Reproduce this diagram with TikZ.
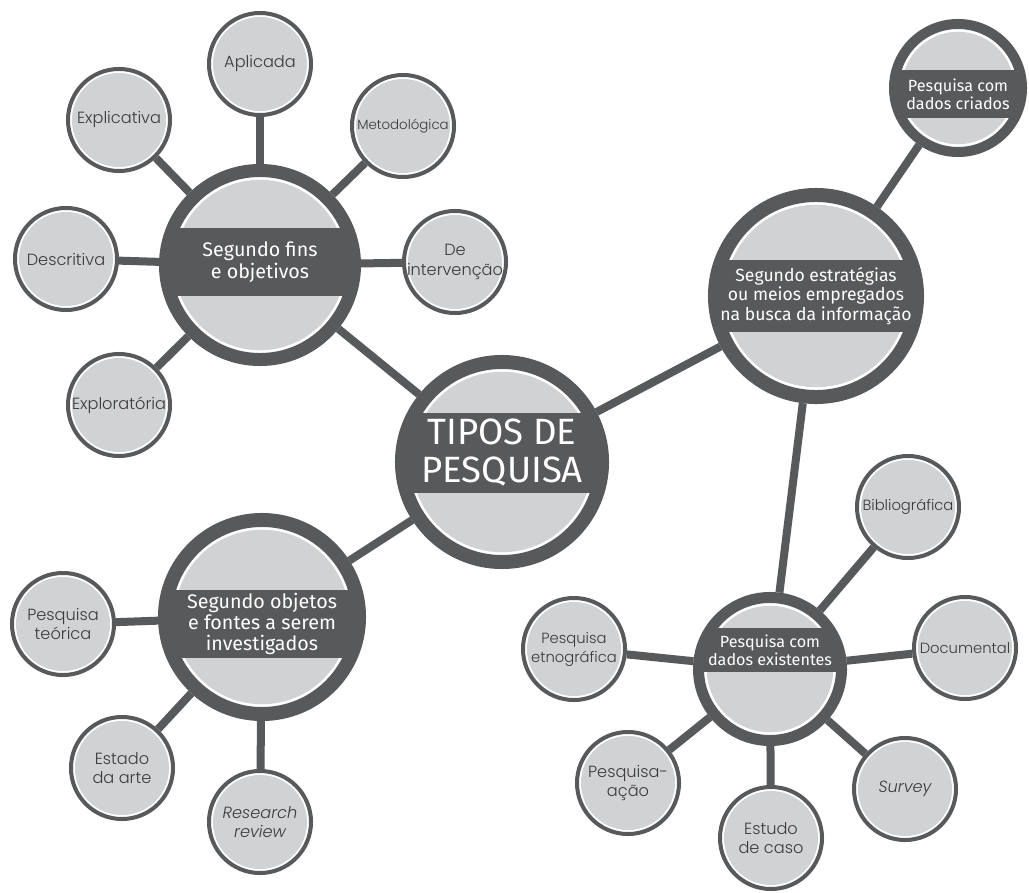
\documentclass[tikz,border=0pt]{standalone}
\usepackage{fontspec}
\setmainfont{Poppins}[UprightFont=* Light, ItalicFont=* Light Italic]
\newfontfamily\bandfont{Fira Sans}
\usetikzlibrary{backgrounds}
\definecolor{ringgray}{HTML}{58595B}
\definecolor{fillgray}{HTML}{D1D2D4}
\definecolor{leaftext}{HTML}{3A3A3C}
\begin{document}
\begin{tikzpicture}[x=0.025cm, y=-0.025cm,
    hub/.style n args={4}{circle, inner sep=0pt, minimum size=#1, line width=#2,
        draw=ringgray, fill=white,
        path picture={
            \fill[fillgray] (path picture bounding box.center) circle[radius=#1/2-#2/2-0.07cm];
            \fill[ringgray] ([yshift=#4-#3]path picture bounding box.west) rectangle ([yshift=#4+#3]path picture bounding box.east);
        }},
    bandtext/.style={text=white, align=center, inner sep=0pt},
    leaf/.style={circle, inner sep=0pt, minimum size=2.55cm, line width=0.1cm,
        draw=ringgray, fill=white, text=leaftext, align=center,
        font=\fontsize{11.5}{14}\selectfont,
        path picture={\fill[fillgray] (path picture bounding box.center) circle[radius=1.175cm];}},
    wide/.style={font=\fontsize{10.5}{13.5}\selectfont},
    link/.style={draw=ringgray, line width=0.2cm}]
    \useasboundingbox (0, 0) rectangle (1029, 892);

    % hubs
    \node[hub={5cm}{0.35cm}{1cm}{0.225cm},
        label={[bandtext, yshift=0.225cm, font=\bandfont\fontsize{26}{27}\selectfont]center:{TIPOS DE\\PESQUISA}}] (tipos) at (502, 462) {};
    \node[hub={4.725cm}{0.325cm}{0.85cm}{0.075cm},
        label={[bandtext, yshift=0.075cm, font=\bandfont\fontsize{14}{15.5}\selectfont]center:{Segundo fins\\e objetivos}}] (fins) at (260, 265) {};
    \node[hub={5.05cm}{0.35cm}{0.9cm}{0cm},
        label={[bandtext, font=\bandfont\fontsize{12.5}{14}\selectfont]center:{Segundo estratégias\\ou meios empregados\\na busca da informação}}] (estrategias) at (816, 296) {};
    \node[hub={4.85cm}{0.35cm}{0.85cm}{-0.175cm},
        label={[bandtext, yshift=-0.175cm, font=\bandfont\fontsize{14}{15}\selectfont]center:{Segundo objetos\\e fontes a serem\\investigados}}] (objetos) at (262, 617) {};
    \node[hub={3.575cm}{0.275cm}{0.55cm}{0.475cm},
        label={[bandtext, yshift=0.475cm, font=\bandfont\fontsize{11.5}{13}\selectfont]center:{Pesquisa com\\dados existentes}}] (existentes) at (770, 669) {};
    \node[hub={3.2cm}{0.25cm}{0.6cm}{-0.15cm},
        label={[bandtext, yshift=-0.15cm, font=\bandfont\fontsize{11.5}{13}\selectfont]center:{Pesquisa com\\dados criados}}] (criados) at (958, 88) {};

    % leaves
    \node[leaf] (aplicada) at (260, 64) {Aplicada};
    \node[leaf] (explicativa) at (119, 120) {Explicativa};
    \node[leaf, font=\fontsize{9.5}{11}\selectfont] (metodologica) at (403, 126) {Metodológica};
    \node[leaf] (intervencao) at (455, 262) {De\\intervenção};
    \node[leaf] (descritiva) at (66, 259) {Descritiva};
    \node[leaf] (exploratoria) at (119, 405) {Exploratória};
    \node[leaf] (teorica) at (63, 624) {Pesquisa\\teórica};
    \node[leaf] (estado) at (122, 768) {Estado\\da arte};
    \node[leaf] (review) at (260, 822) {\itshape Research\\\itshape review};
    \node[leaf, wide] (bibliografica) at (908, 507) {Bibliográfica};
    \node[leaf, wide] (documental) at (965, 648) {Documental};
    \node[leaf] (survey) at (905, 789) {\itshape Survey};
    \node[leaf] (estudo) at (771, 838) {Estudo\\de caso};
    \node[leaf] (acao) at (628, 783) {Pesquisa-\\ação};
    \node[leaf, wide] (etnografica) at (574, 649) {Pesquisa\\etnográfica};

    \begin{scope}[on background layer]
        \fill[white] (0, 0) rectangle (1029, 892);
        \draw[link] (tipos) -- (fins);
        \draw[link] (tipos) -- (estrategias);
        \draw[link] (tipos) -- (objetos);
        \draw[link] (estrategias) -- (criados);
        \draw[link] (estrategias) -- (existentes);
        \foreach \leafname in {aplicada, explicativa, metodologica, intervencao, descritiva, exploratoria}{
            \draw[link] (fins) -- (\leafname);
        }
        \foreach \leafname in {teorica, estado, review}{
            \draw[link] (objetos) -- (\leafname);
        }
        \foreach \leafname in {bibliografica, documental, survey, estudo, acao, etnografica}{
            \draw[link] (existentes) -- (\leafname);
        }
    \end{scope}
\end{tikzpicture}
\end{document}
